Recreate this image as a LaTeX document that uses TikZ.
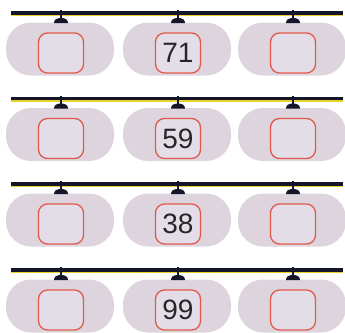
\documentclass[tikz,border=0pt]{standalone}
\usepackage{fontspec}
\setmainfont{Liberation Sans}
\definecolor{pillc}{HTML}{DDD4DE}
\definecolor{slotc}{HTML}{E2594C}
\definecolor{slotfill}{HTML}{E3DDE8}
\definecolor{railc}{HTML}{15152A}
\definecolor{yelc}{HTML}{E8D22A}
\begin{document}
\begin{tikzpicture}[x=1pt,y=-1pt,
  pill/.style={draw=none, fill=pillc, rounded corners=25pt, minimum width=108pt, minimum height=53pt, inner sep=0pt},
  slot/.style={draw=slotc, line width=1.3pt, fill=slotfill, rounded corners=9pt, minimum width=45pt, minimum height=40pt, inner sep=0pt, font=\fontsize{28}{28}\selectfont, text=black!85},
  rail/.style={line width=3.2pt, draw=railc},
  yel/.style={line width=1.4pt, draw=yelc},
  stem/.style={line width=2.2pt, draw=railc},
  capfill/.style={fill=railc}]
\useasboundingbox (0,0) rectangle (345,332);
\foreach \r/\L/\n in {1/13/71, 2/98.5/59, 3/184/38, 4/270/99} {
  \coordinate (rl\r) at (11,\L);
  \coordinate (rr\r) at (343,\L);
  \draw[yel] ([yshift=-2.3pt]rl\r) -- ([yshift=-2.3pt]rr\r);
  \draw[rail] (rl\r) -- (rr\r);
  \foreach \c/\x in {1/60,2/177,3/292} {
    \node[pill] (p\r\c) at (\x,\L+36) {};
    \node[slot] (s\r\c) at (\x+1,\L+40) {\ifnum\c=2 \n\fi};
    \coordinate (h\r\c) at (\x+1,\L-3);
    \coordinate (c\r\c) at (\x+1,\L+6);
    \draw[stem] (h\r\c) -- (c\r\c);
    \fill[capfill] (\x-6,\L+10)
      .. controls (\x-6,\L+6.5) and (\x-3,\L+5) .. (\x+1,\L+5)
      .. controls (\x+5,\L+5) and (\x+8,\L+6.5) .. (\x+8,\L+10) -- cycle;
  }
}
\end{tikzpicture}
\end{document}
